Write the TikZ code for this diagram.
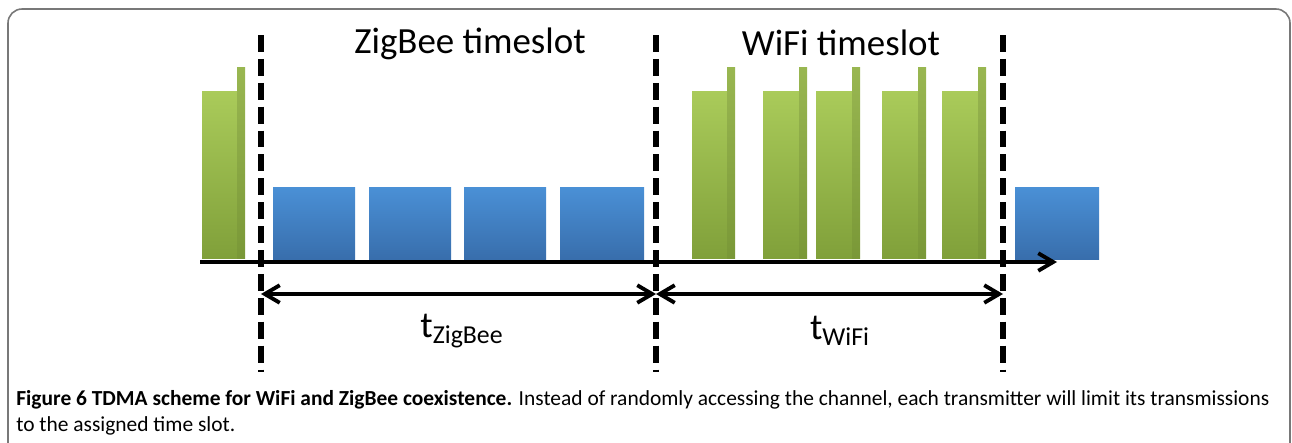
\documentclass[tikz,border=0pt]{standalone}
\usepackage{fontspec}
\setmainfont{Carlito}
\setsansfont{Carlito}
\newfontfamily\capfont{Carlito}
\usetikzlibrary{arrows.meta}

\definecolor{wftop}{RGB}{170,203,90}
\definecolor{wfbot}{RGB}{128,160,58}
\definecolor{zbtop}{RGB}{74,144,214}
\definecolor{zbbot}{RGB}{56,110,172}
\definecolor{framegray}{RGB}{120,120,120}

\tikzset{
  slotline/.style={line width=3.6pt, dash pattern=on 9.6pt off 4pt},
  timeaxis/.style={line width=2.2pt, -{Straight Barb[length=8.5pt,width=10pt]}},
  slotspan/.style={line width=2.2pt, {Straight Barb[length=8.5pt,width=10pt]}-{Straight Barb[length=8.5pt,width=10pt]}},
  zbpkt/.style={top color=zbtop, bottom color=zbbot},
  wfpkt/.style={top color=wftop, bottom color=wfbot},
  wfack/.style={top color=wftop!90!black, bottom color=wfbot!95!black}
}

\begin{document}
\begin{tikzpicture}[x=0.02cm, y=-0.02cm, font=\sffamily]
  \useasboundingbox (0,0) rectangle (1292,443);

  % Frame of the figure
  \draw[framegray, line width=0.9pt, rounded corners=8pt]
    (8,450) -- (8,9) -- (1290,9) -- (1290,450);

  % Slot borders
  \coordinate (b0top) at (261,35);   % start of ZigBee slot
  \coordinate (b0bot) at (261,372);
  \coordinate (b1top) at (656,35);   % ZigBee / WiFi border
  \coordinate (b1bot) at (656,372);
  \coordinate (b2top) at (1003,35);  % end of WiFi slot
  \coordinate (b2bot) at (1003,372);

  % WiFi frames (data + ack)
  \path[wfpkt] (202,91) rectangle (237,258);
  \path[wfack] (237,67) rectangle (245,258);

  \path[wfpkt] (692,91) rectangle (727,258);
  \path[wfack] (727,67) rectangle (735,258);
  \path[wfpkt] (763,91) rectangle (799,258);
  \path[wfack] (799,67) rectangle (807,258);
  \path[wfpkt] (816,91) rectangle (852,258);
  \path[wfack] (852,67) rectangle (860,258);
  \path[wfpkt] (882,91) rectangle (918,258);
  \path[wfack] (918,67) rectangle (926,258);
  \path[wfpkt] (942,91) rectangle (978,258);
  \path[wfack] (978,67) rectangle (986,258);

  % ZigBee frames
  \path[zbpkt] (273,187) rectangle (355,259);
  \path[zbpkt] (369,187) rectangle (451,259);
  \path[zbpkt] (464,187) rectangle (546,259);
  \path[zbpkt] (560,187) rectangle (644,259);
  \path[zbpkt] (1015,187) rectangle (1099,259);

  % Time axis
  \coordinate (t0) at (200,262);
  \coordinate (t1) at (1057,262);
  \draw[timeaxis] (t0) -- (t1);

  % Slot borders drawn over the frames
  \draw[slotline] (b0top) -- (b0bot);
  \draw[slotline] (b1top) -- (b1bot);
  \draw[slotline] (b2top) -- (b2bot);

  % Slot lengths
  \coordinate (zbL) at (261,294);
  \coordinate (zbR) at (656,294);
  \coordinate (wfL) at (656,294);
  \coordinate (wfR) at (1003,294);
  \draw[slotspan] (zbL) -- (zbR);
  \draw[slotspan] (wfL) -- (wfR);

  % Labels
  \node[font=\sffamily\fontsize{21}{24}\selectfont] (zbslot) at (470,44) {ZigBee timeslot};
  \node[font=\sffamily\fontsize{21}{24}\selectfont] (wfslot) at (841,43) {WiFi timeslot};
  \node[font=\sffamily\fontsize{21}{24}\selectfont] (tzb) at (462,331) {t\textsubscript{ZigBee}};
  \node[font=\sffamily\fontsize{21}{24}\selectfont] (twf) at (840,331) {t\textsubscript{WiFi}};

  % Caption
  \node[anchor=base west, align=left, inner sep=0pt,
        font=\capfont\fontsize{12.2}{14.8}\selectfont] (caption) at (16,431)
    {\textbf{Figure 6 TDMA scheme for WiFi and ZigBee coexistence.} Instead of randomly accessing the channel, each transmitter will limit its transmissions\\to the assigned time slot.};
\end{tikzpicture}
\end{document}
